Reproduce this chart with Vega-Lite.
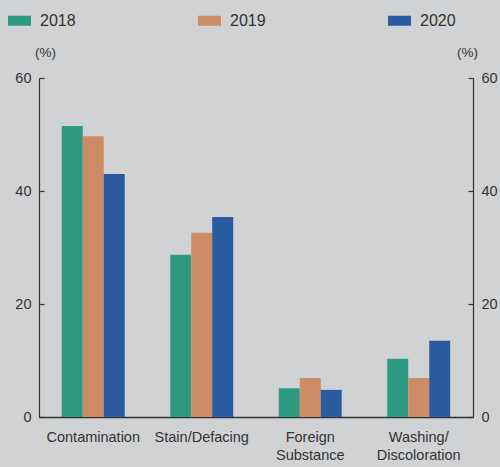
{
  "$schema": "https://vega.github.io/schema/vega-lite/v6.json",
  "autosize": "none",
  "width": 434,
  "height": 339,
  "padding": {"left": 39, "top": 78, "right": 27, "bottom": 50},
  "background": "#d1d2d4",
  "config": {
    "view": {"stroke": null},
    "font": "Liberation Sans",
    "axis": {"labelColor": "#333333", "titleColor": "#333333", "domainColor": "#333333", "tickColor": "#333333", "grid": false}
  },
  "data": {
    "values": [
      {"category": "Contamination", "year": "2018", "value": 51.5},
      {"category": "Contamination", "year": "2019", "value": 49.7},
      {"category": "Contamination", "year": "2020", "value": 43.0},
      {"category": "Stain/Defacing", "year": "2018", "value": 28.7},
      {"category": "Stain/Defacing", "year": "2019", "value": 32.6},
      {"category": "Stain/Defacing", "year": "2020", "value": 35.4},
      {"category": "Foreign Substance", "year": "2018", "value": 5.1},
      {"category": "Foreign Substance", "year": "2019", "value": 6.9},
      {"category": "Foreign Substance", "year": "2020", "value": 4.8},
      {"category": "Washing/Discoloration", "year": "2018", "value": 10.3},
      {"category": "Washing/Discoloration", "year": "2019", "value": 6.9},
      {"category": "Washing/Discoloration", "year": "2020", "value": 13.5}
    ]
  },
  "encoding": {
    "x": {
      "field": "category", "type": "nominal", "sort": null,
      "scale": {"paddingInner": 0.42, "paddingOuter": 0.21},
      "axis": {
        "title": null, "labelAngle": 0, "ticks": false, "labelPadding": 13,
        "labelFontSize": 14.5, "labelLineHeight": 18, "domainWidth": 1.5,
        "labelExpr": "datum.value == 'Foreign Substance' ? ['Foreign','Substance'] : datum.value == 'Washing/Discoloration' ? ['Washing/','Discoloration'] : datum.value"
      }
    },
    "xOffset": {"field": "year", "type": "nominal", "scale": {"paddingInner": 0, "paddingOuter": 0}},
    "y": {
      "field": "value", "type": "quantitative",
      "scale": {"domain": [0, 60]}
    },
    "color": {
      "field": "year", "type": "nominal",
      "scale": {"domain": ["2018", "2019", "2020"], "range": ["#2e9a82", "#cd8c65", "#2a5b9e"]}
    }
  },
  "layer": [
    {
      "mark": {"type": "bar"},
      "encoding": {
        "y": {
          "field": "value", "type": "quantitative",
          "scale": {"domain": [0, 60]},
          "axis": {
            "orient": "left", "values": [0, 20, 40, 60], "tickSize": -5, "labelPadding": 13,
            "labelFontSize": 14.5, "domainWidth": 1.2, "tickWidth": 1.2,
            "title": "(%)", "titleAngle": 0, "titleAlign": "center", "titleBaseline": "alphabetic",
            "titleX": 6, "titleY": -22, "titleFontSize": 13.5, "titleFontWeight": "normal"
          }
        },
        "color": {
          "field": "year", "type": "nominal",
          "scale": {"domain": ["2018", "2019", "2020"], "range": ["#2e9a82", "#cd8c65", "#2a5b9e"]},
          "legend": {
            "title": null, "orient": "none", "direction": "horizontal", "columns": 3,
            "legendX": -31, "legendY": -69, "padding": 0,
            "symbolType": "M-1,-0.435H1V0.435H-1Z", "symbolSize": 529, "symbolStrokeWidth": 0,
            "symbolOpacity": 1, "labelFontSize": 16, "labelColor": "#333333", "labelOffset": 9,
            "columnPadding": 122
          }
        }
      }
    },
    {
      "mark": {"type": "bar", "opacity": 0},
      "encoding": {
        "y": {
          "field": "value", "type": "quantitative",
          "scale": {"domain": [0, 60]},
          "axis": {
            "orient": "right", "values": [0, 20, 40, 60], "tickSize": -5, "labelPadding": 13,
            "labelFontSize": 14.5, "domainWidth": 1.2, "tickWidth": 1.2,
            "title": "(%)", "titleAngle": 0, "titleAlign": "center", "titleBaseline": "alphabetic",
            "titleX": -6, "titleY": -22, "titleFontSize": 13.5, "titleFontWeight": "normal"
          }
        }
      }
    }
  ],
  "resolve": {"axis": {"y": "independent"}}
}
